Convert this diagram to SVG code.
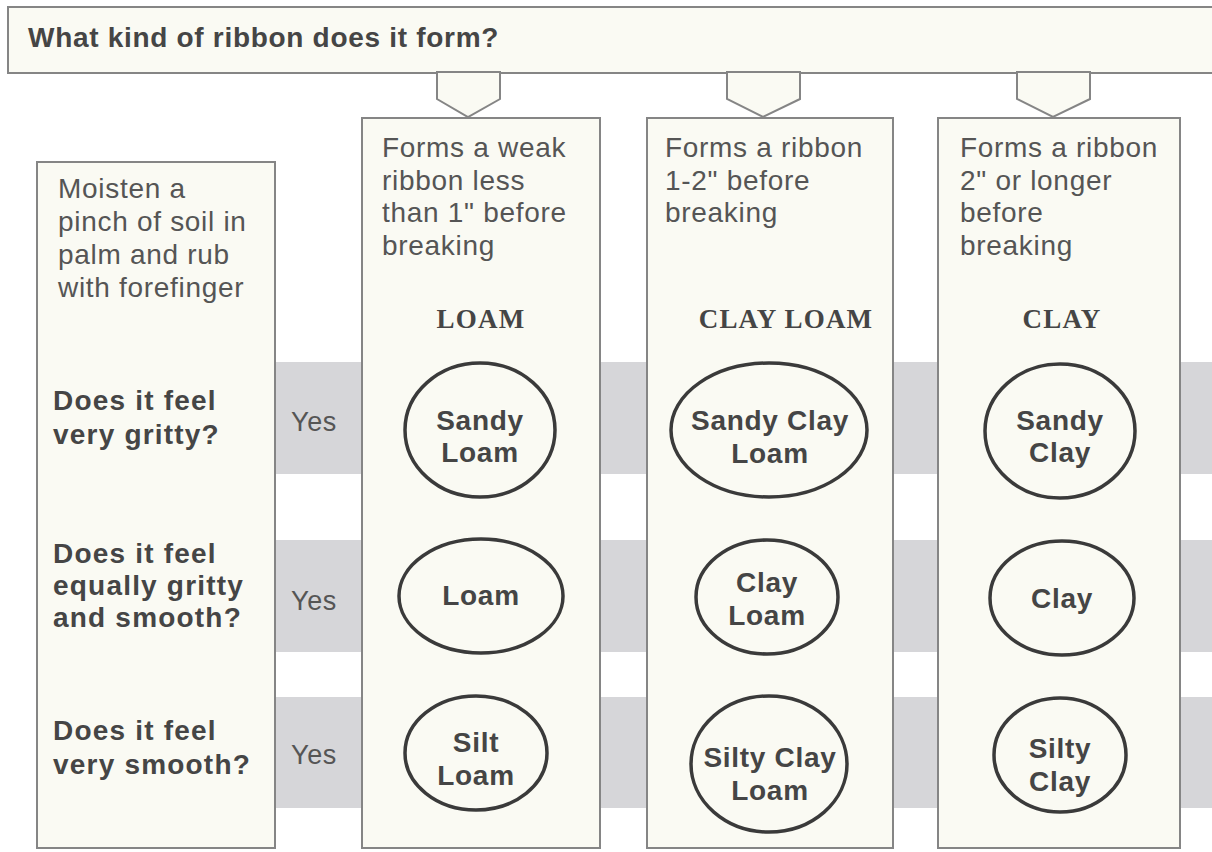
<svg xmlns="http://www.w3.org/2000/svg" width="1212" height="852" viewBox="0 0 1212 852">
<style>
.box{fill:#fafaf3;stroke:#858585;stroke-width:2}
.band{fill:#d6d6d9}
.ell{fill:none;stroke:#3a3a3a;stroke-width:3.5}
.t{font-family:"Liberation Sans",Arial,sans-serif;font-size:28px;letter-spacing:0.7px;fill:#555}
.y{font-family:"Liberation Sans",Arial,sans-serif;font-size:27px;letter-spacing:0.6px;fill:#555}
.q{font-family:"Liberation Sans",Arial,sans-serif;font-size:28px;letter-spacing:1.2px;font-weight:bold;fill:#454545}
.ti{font-family:"Liberation Sans",Arial,sans-serif;font-size:28px;letter-spacing:0.7px;font-weight:bold;fill:#454545}
.e{font-family:"Liberation Sans",Arial,sans-serif;font-size:28px;letter-spacing:0.7px;font-weight:bold;fill:#454545;text-anchor:middle}
.h{font-family:"Liberation Serif","Times New Roman",serif;font-size:27px;letter-spacing:1.2px;font-weight:bold;fill:#454545;text-anchor:middle}
</style>
<rect width="1212" height="852" fill="#ffffff"/>
<g id="bands">
<rect class="band" x="270" y="362" width="950" height="112"/>
<rect class="band" x="270" y="540" width="950" height="112"/>
<rect class="band" x="270" y="697" width="950" height="111"/>
</g>
<g id="title">
<rect class="box" x="8" y="7" width="1220" height="66"/>
<text class="ti" x="28" y="47">What kind of ribbon does it form?</text>
</g>
<g id="connectors">
<polygon class="box" points="437,72 500,72 500,99 468,117 437,99"/>
<polygon class="box" points="727,72 800,72 800,99 763,117 727,99"/>
<polygon class="box" points="1017,72 1090,72 1090,99 1053,117 1017,99"/>
</g>
<g id="left">
<rect class="box" x="37" y="162" width="238" height="686"/>
<text class="t" x="58" y="198">Moisten a</text>
<text class="t" x="58" y="231">pinch of soil in</text>
<text class="t" x="58" y="264">palm and rub</text>
<text class="t" x="58" y="297">with forefinger</text>
<text class="q" x="53" y="410">Does it feel</text>
<text class="q" x="53" y="444">very gritty?</text>
<text class="q" x="53" y="563">Does it feel</text>
<text class="q" x="53" y="595">equally gritty</text>
<text class="q" x="53" y="627">and smooth?</text>
<text class="q" x="53" y="740">Does it feel</text>
<text class="q" x="53" y="774">very smooth?</text>
</g>
<g id="yes">
<text class="y" x="291" y="431">Yes</text>
<text class="y" x="291" y="610">Yes</text>
<text class="y" x="291" y="764">Yes</text>
</g>
<g id="col1">
<rect class="box" x="362" y="118" width="238" height="730"/>
<text class="t" x="382" y="157">Forms a weak</text>
<text class="t" x="382" y="190">ribbon less</text>
<text class="t" x="382" y="222">than 1" before</text>
<text class="t" x="382" y="255">breaking</text>
<text class="h" x="481" y="328">LOAM</text>
</g>
<g id="col2">
<rect class="box" x="647" y="118" width="246" height="730"/>
<text class="t" x="665" y="157">Forms a ribbon</text>
<text class="t" x="665" y="190">1-2" before</text>
<text class="t" x="665" y="222">breaking</text>
<text class="h" x="786" y="328">CLAY LOAM</text>
</g>
<g id="col3">
<rect class="box" x="938" y="118" width="242" height="730"/>
<text class="t" x="960" y="157">Forms a ribbon</text>
<text class="t" x="960" y="190">2" or longer</text>
<text class="t" x="960" y="222">before</text>
<text class="t" x="960" y="255">breaking</text>
<text class="h" x="1062" y="328">CLAY</text>
</g>
<g id="sandy-loam"><ellipse class="ell" cx="480" cy="430" rx="75" ry="67"/><text class="e" x="480" y="430">Sandy</text><text class="e" x="480" y="462">Loam</text></g>
<g id="sandy-clay-loam"><ellipse class="ell" cx="769" cy="430" rx="98" ry="67"/><text class="e" x="770" y="430">Sandy Clay</text><text class="e" x="770" y="463">Loam</text></g>
<g id="sandy-clay"><ellipse class="ell" cx="1060" cy="431" rx="75" ry="67"/><text class="e" x="1060" y="430">Sandy</text><text class="e" x="1060" y="462">Clay</text></g>
<g id="loam"><ellipse class="ell" cx="481" cy="596" rx="82" ry="57"/><text class="e" x="481" y="605">Loam</text></g>
<g id="clay-loam"><ellipse class="ell" cx="767" cy="597" rx="71" ry="57"/><text class="e" x="767" y="592">Clay</text><text class="e" x="767" y="625">Loam</text></g>
<g id="clay"><ellipse class="ell" cx="1062" cy="598" rx="72" ry="57"/><text class="e" x="1062" y="608">Clay</text></g>
<g id="silt-loam"><ellipse class="ell" cx="476" cy="753" rx="71" ry="57"/><text class="e" x="476" y="752">Silt</text><text class="e" x="476" y="785">Loam</text></g>
<g id="silty-clay-loam"><ellipse class="ell" cx="769" cy="764" rx="78" ry="68"/><text class="e" x="770" y="767">Silty Clay</text><text class="e" x="770" y="800">Loam</text></g>
<g id="silty-clay"><ellipse class="ell" cx="1060" cy="755" rx="66" ry="57"/><text class="e" x="1060" y="758">Silty</text><text class="e" x="1060" y="791">Clay</text></g>
</svg>
